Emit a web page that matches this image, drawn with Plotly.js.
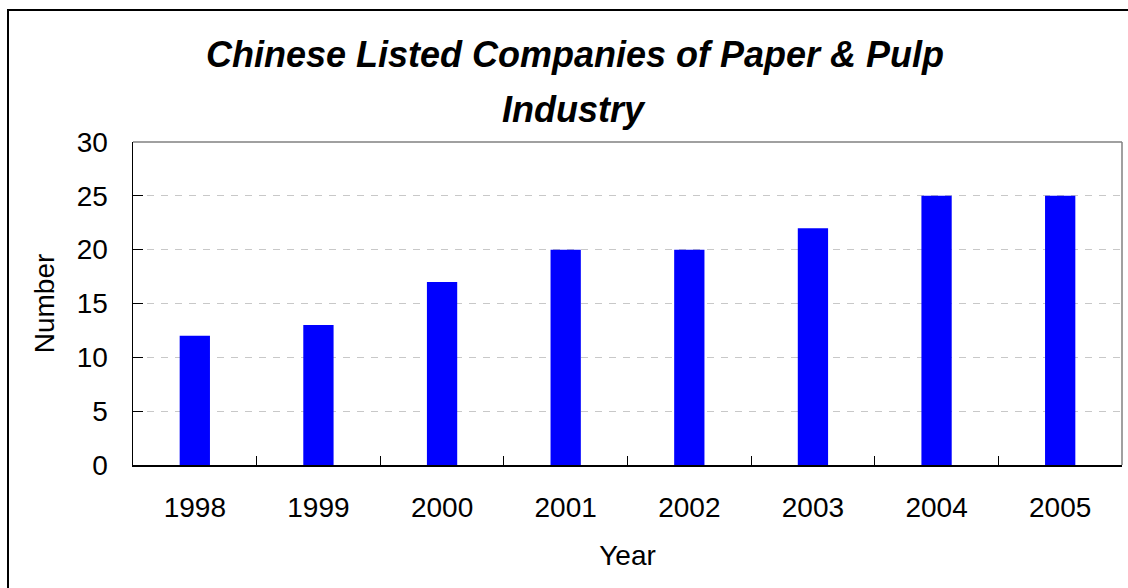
<!DOCTYPE html>
<html>
<head>
<meta charset="utf-8">
<script src="https://cdn.plot.ly/plotly-3.0.1.min.js"></script>
<style>
html,body{margin:0;padding:0;background:#fff;}
#chart{width:1128px;height:588px;}
</style>
</head>
<body>
<div id="chart"></div>
<script>
var years = ['1998','1999','2000','2001','2002','2003','2004','2005'];
var companies = [12, 13, 17, 20, 20, 22, 25, 25];
var titleLine1 = 'Chinese Listed Companies of Paper & Pulp';
var titleLine2 = 'Industry';
var xTitle = 'Year';
var yTitle = 'Number';

var FONT = '"Liberation Sans", Arial, sans-serif';

var trace = {
  type: 'bar',
  x: years,
  y: companies,
  marker: {color: '#0000FF', line: {width: 0}},
  hoverinfo: 'x+y'
};

var layout = {
  width: 1128,
  height: 588,
  margin: {l: 133, r: 6, t: 142, b: 123},
  paper_bgcolor: '#ffffff',
  plot_bgcolor: '#ffffff',
  font: {family: FONT, size: 28, color: '#000'},
  showlegend: false,
  bargap: 0.755,
  title: {
    text: '<b><i>' + titleLine1 + '</i></b>',
    font: {family: FONT, size: 36, color: '#000'},
    xref: 'container', yref: 'container',
    x: 575/1128, xanchor: 'center',
    y: 1 - 54/588, yanchor: 'middle'
  },
  annotations: [{
    text: '<b><i>' + titleLine2 + '</i></b>',
    font: {family: FONT, size: 36, color: '#000'},
    xref: 'paper', yref: 'paper',
    x: (574-133)/989, y: (465-110)/323,
    xanchor: 'center', yanchor: 'middle',
    showarrow: false
  }],
  xaxis: {
    type: 'category',
    showline: true, linecolor: '#000', linewidth: 1.5,
    ticks: 'inside', tickson: 'boundaries', ticklen: 9, tickcolor: '#000', tickwidth: 1,
    showgrid: false, zeroline: false,
    tickfont: {family: FONT, size: 28, color: '#000'},
    ticklabelstandoff: 17,
    title: {text: xTitle, font: {family: FONT, size: 28, color: '#000'}, standoff: 23},
    fixedrange: true
  },
  yaxis: {
    range: [0, 30],
    tickvals: [0, 5, 10, 15, 20, 25, 30],
    ticktext: ['0','5','10','15','20','25','30'],
    showline: true, linecolor: '#000', linewidth: 1.5,
    ticks: 'inside', ticklen: 10, tickcolor: '#000', tickwidth: 1,
    showgrid: true, gridcolor: '#c8c8c8', gridwidth: 1, griddash: '7px,7px',
    zeroline: false,
    tickfont: {family: FONT, size: 28, color: '#000'},
    ticklabelstandoff: 18,
    title: {text: yTitle, font: {family: FONT, size: 28, color: '#000'}, standoff: 14},
    fixedrange: true
  },
  shapes: [
    {type: 'line', xref: 'paper', yref: 'paper', x0: 0, x1: 1, y0: 1, y1: 1,
     line: {color: '#808080', width: 1.5}},
    {type: 'line', xref: 'paper', yref: 'paper', x0: 1, x1: 1, y0: 0, y1: 1,
     line: {color: '#808080', width: 1.5}},
    {type: 'rect', xref: 'paper', yref: 'paper',
     x0: (8-133)/989, x1: 1.5, y0: -1, y1: (465-10)/323,
     line: {color: '#000', width: 2}, fillcolor: 'rgba(0,0,0,0)', layer: 'below'}
  ]
};

Plotly.newPlot('chart', [trace], layout, {displayModeBar: false, staticPlot: true});
</script>
</body>
</html>
